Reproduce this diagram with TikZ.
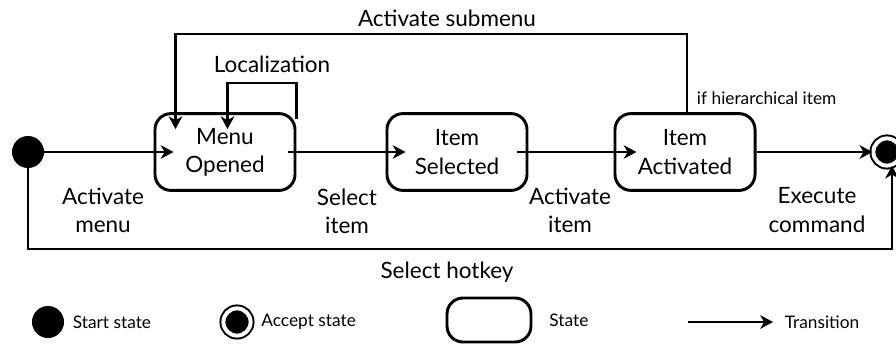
\documentclass[tikz,border=0pt]{standalone}
\usepackage{fontspec}
\setmainfont{Lato}
\usetikzlibrary{
    arrows.meta,
    calc,
    positioning
}

\tikzset{
    state/.style={draw, line width=2.1pt, rounded corners=4mm, minimum width=3.5cm,
        minimum height=1.92cm, align=center, font=\fontsize{16}{20}\selectfont},
    startstate/.style={circle, fill=black, minimum size=0.8cm, inner sep=0pt},
    acceptstate/.style={circle, fill=black, draw=black, line width=1.4pt, double=white,
        double distance=2.8pt, minimum size=0.68cm, inner sep=0pt},
    trans/.style={line width=2.1pt, -{Stealth[length=3.2mm,width=3.4mm,inset=1mm]}},
    lbl/.style={align=center, font=\fontsize{16}{20}\selectfont},
    small/.style={font=\fontsize{12.3}{14}\selectfont}
}

\begin{document}
\begin{tikzpicture}[x=0.025cm, y=-0.025cm]
    \useasboundingbox (0,0) rectangle (896,344);

    % States
    \node[startstate] (start) at (28,152) {};
    \node[state] (menu) at (225,152) {Menu\\Opened};
    \node[state] (sel) at (457,152) {Item\\Selected};
    \node[state] (act) at (685,152) {Item\\Activated};
    \node[acceptstate] (accept) at (887,152) {};

    % Transitions along the main line
    \draw[trans] (start.east) -- ($(menu.west)+(20,0)$);
    \draw[trans] ($(menu.east)+(-8,0)$) -- ($(sel.west)+(20,0)$);
    \draw[trans] ($(sel.east)+(-11,0)$) -- ($(act.west)+(23,0)$);
    \draw[trans] (act.east) -- (accept.west);

    % Loops
    \coordinate (subtop) at (430,34);
    \coordinate (locbend) at (262,83);
    \draw[trans] ($(act.north)+(2,0)$) |- (subtop) -| ($(menu.north west)+(22,17)$);
    \draw[trans] ($(menu.north east)+(0,7)$) |- (locbend) -| ($(menu.north west)+(74,17)$);
    \coordinate (botline) at (450,249);
    \draw[trans] (start.south) |- (botline) -| (accept.-70);

    % Transition labels
    \node[lbl] (lsub) at (447,18) {Activate submenu};
    \node[lbl] (lloc) at (272,64) {Localization};
    \node[small, anchor=west] (lhier) at (692,98) {if hierarchical item};
    \node[lbl] (lmenu) at (103,210) {Activate\\menu};
    \node[lbl] (lsel) at (347,211) {Select\\item};
    \node[lbl] (litem) at (570,210) {Activate\\item};
    \node[lbl] (lexec) at (817,210) {Execute\\command};
    \node[lbl] (lhot) at (447,272) {Select hotkey};

    % Legend
    \node[startstate] (legstart) at (48,322) {};
    \node[small, right=0.9mm of legstart] (tstart) {Start state};
    \node[acceptstate] (legacc) at (237,322) {};
    \node[small, right=1.2mm of legacc] (tacc) {Accept state};
    \node[state, minimum width=2.1cm, minimum height=1.1cm] (legstate) at (489,320) {};
    \node[small, right=3mm of legstate] (tstate) {State};
    \coordinate (legA) at (688,322);
    \coordinate (legB) at (773,322);
    \draw[trans] (legA) -- (legB);
    \node[small, right=1.7mm of legB] (ttrans) {Transition};
\end{tikzpicture}
\end{document}
